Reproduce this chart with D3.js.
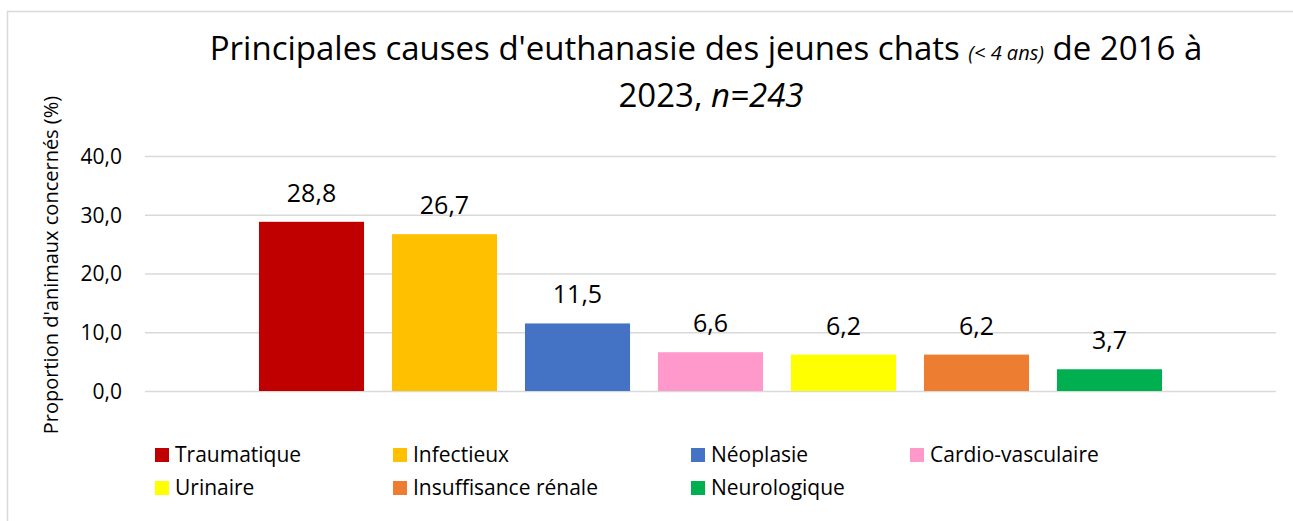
<!DOCTYPE html>
<html>
<head>
<meta charset="utf-8">
<script src="https://cdn.jsdelivr.net/npm/d3@7"></script>
<style>
  body { margin: 0; background: #fff; }
  svg text { font-family: "Open Sans", "Noto Sans", sans-serif; fill: #000; }
</style>
</head>
<body>
<div class="chart"></div>
<script>
// data
var causes = ["Traumatique", "Infectieux", "Néoplasie", "Cardio-vasculaire", "Urinaire", "Insuffisance rénale", "Neurologique"];
var values = [28.8, 26.7, 11.5, 6.6, 6.2, 6.2, 3.7];
var colors = ["#C00000", "#FFC000", "#4472C4", "#FF99CC", "#FFFF00", "#ED7D31", "#00B050"];
var yTicks = [0, 10, 20, 30, 40];

var svgWidth = 1293;
var svgHeight = 521;

var margin = { top: 156, right: 17, bottom: 130, left: 145 };
var width = svgWidth - margin.left - margin.right;
var height = svgHeight - margin.top - margin.bottom;

var svg = d3.select(".chart")
  .append("svg")
  .attr("width", svgWidth)
  .attr("height", svgHeight);

// outer frame
svg.append("rect")
  .attr("x", 7.5).attr("y", 11.5)
  .attr("width", 1300).attr("height", 520)
  .attr("fill", "none")
  .attr("stroke", "#d9d9d9")
  .attr("stroke-width", 1.5);

var chartGroup = svg.append("g")
  .attr("transform", `translate(${margin.left}, ${margin.top})`);

var x = d3.scaleBand()
  .domain(causes)
  .range([0, width])
  .paddingInner(0.21)
  .paddingOuter(0.857);

var y = d3.scaleLinear()
  .domain([0, 40])
  .range([height, 0]);

var fmt = d => d3.format(".1f")(d).replace(".", ",");

// gridlines + tick labels
var leftAxis = d3.axisLeft(y)
  .tickValues(yTicks)
  .tickSize(-width)
  .tickPadding(23)
  .tickFormat(fmt);

var yAxis = chartGroup.append("g").call(leftAxis);
yAxis.select(".domain").remove();
yAxis.selectAll(".tick line").attr("stroke", "#d9d9d9").attr("stroke-width", 1.5);
yAxis.selectAll(".tick text")
  .style("font-size", "21px")
  .attr("dy", "0.35em");

// bars
chartGroup.selectAll("rect.bar")
  .data(causes)
  .enter()
  .append("rect")
  .attr("class", "bar")
  .attr("x", d => x(d))
  .attr("width", x.bandwidth())
  .attr("y", (d, i) => y(values[i]))
  .attr("height", (d, i) => height - y(values[i]))
  .attr("fill", (d, i) => colors[i]);

// value labels
chartGroup.selectAll("text.val")
  .data(causes)
  .enter()
  .append("text")
  .attr("class", "val")
  .attr("x", d => x(d) + x.bandwidth() / 2)
  .attr("y", (d, i) => y(values[i]) - 20)
  .attr("text-anchor", "middle")
  .style("font-size", "25px")
  .text((d, i) => fmt(values[i]));

// title
var title = svg.append("text")
  .attr("text-anchor", "middle")
  .style("font-size", "33px");
var line1 = title.append("tspan").attr("x", 706).attr("y", 60);
line1.append("tspan").text("Principales causes d'euthanasie des jeunes chats ");
line1.append("tspan").style("font-style", "italic").style("font-size", "20px").text("(< 4 ans)");
line1.append("tspan").text(" de 2016 à");
var line2 = title.append("tspan").attr("x", 711).attr("y", 107);
line2.append("tspan").text("2023, ");
line2.append("tspan").style("font-style", "italic").text("n=243");

// y axis title
svg.append("text")
  .attr("transform", "rotate(-90)")
  .attr("x", -265)
  .attr("y", 58)
  .attr("text-anchor", "middle")
  .style("font-size", "20px")
  .text("Proportion d'animaux concernés (%)");

// legend
var legendX = [155, 393, 691, 910];
var legend = svg.selectAll("g.legend")
  .data(causes)
  .enter()
  .append("g")
  .attr("class", "legend")
  .attr("transform", (d, i) => `translate(${legendX[i % 4]}, ${455 + Math.floor(i / 4) * 33})`);

legend.append("rect")
  .attr("x", 0).attr("y", -7)
  .attr("width", 14).attr("height", 14)
  .attr("fill", (d, i) => colors[i]);

legend.append("text")
  .attr("x", 20)
  .attr("y", 0)
  .attr("dy", "0.35em")
  .style("font-size", "21px")
  .text(d => d);
</script>
</body>
</html>
